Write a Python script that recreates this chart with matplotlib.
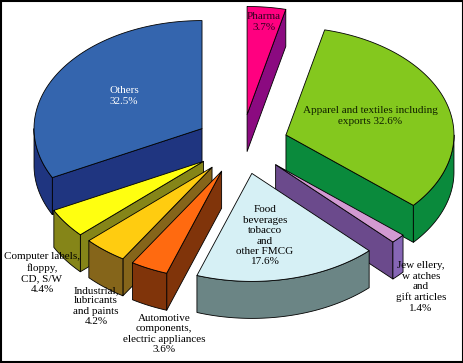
import numpy as np
import matplotlib
matplotlib.use('Agg')
import matplotlib.pyplot as plt
from matplotlib.patches import Polygon, Rectangle

# shares in percent, clockwise from 12 o'clock
labels = ['Pharma\n3.7%', 'Apparel and textiles including\nexports 32.6%',
          'Jew ellery,\nw atches\nand\ngift articles\n1.4%',
          'Food\nbeverages\ntobacco\nand\nother FMCG\n17.6%',
          'Automotive\ncomponents,\nelectric appliances\n3.6%',
          'Industrial,\nlubricants\nand paints\n4.2%',
          'Computer labels,\nfloppy,\nCD, S/W\n4.4%',
          'Others\n32.5%']
shares = [3.7, 32.6, 1.4, 17.6, 3.6, 4.2, 4.4, 32.5]

top_colors = ['#FF0080', '#84C81E', '#D29AD2', '#D6F0F5', '#FF6A10', '#FFCC10', '#FFFF10', '#3465AE']
side_colors = ['#8B0A80', '#0A8A3C', '#6B4A8C', '#6B8585', '#80340A', '#85651A', '#858518', '#1F3580']
wall_colors = ['#8B0A80', '#0A8A3C', '#8666B5', '#6B8585', '#80340A', '#85651A', '#858518', '#1F3580']
text_colors = ['#300020', '#102000', 'black', 'black', 'black', 'black', 'black', 'white']
label_pos = [(264, 22), (370, 116), (421, 287), (265, 236), (164, 334), (96, 306), (42, 273), (124, 96)]

# pie geometry in pixels
cx, cy = 241.7, 144.2
a, b = 168, 108
depth = 37
explode = 0.277

def rim(x0, y0, t):
    return x0 + a * np.sin(t), y0 - b * np.cos(t)

def draw_poly(ax, xs, ys, color):
    ax.add_patch(Polygon(np.column_stack((xs, ys)), closed=True, facecolor=color,
                         edgecolor='black', linewidth=0.6, joinstyle='round'))

fig = plt.figure(figsize=(4.64, 3.63), dpi=100)
ax = fig.add_axes([0, 0, 1, 1])
ax.set_xlim(0, 464)
ax.set_ylim(363, 0)
ax.axis('off')

ends = np.cumsum(shares) / 100 * 2 * np.pi
starts = np.concatenate(([0], ends[:-1]))

# back slices first, front slices last
order = [0, 7, 1, 2, 3, 6, 5, 4]
for i in order:
    t1, t2 = starts[i], ends[i]
    mid = (t1 + t2) / 2
    x0 = cx + explode * a * np.sin(mid)
    y0 = cy - explode * b * np.cos(mid)

    # radial faces
    if np.sin(t1) < -1e-6:
        x, y = rim(x0, y0, t1)
        draw_poly(ax, [x0, x, x, x0], [y0, y, y + depth, y0 + depth], side_colors[i])
    if np.sin(t2) > 1e-6:
        x, y = rim(x0, y0, t2)
        draw_poly(ax, [x0, x, x, x0], [y0, y, y + depth, y0 + depth], side_colors[i])

    # outer wall, only the part facing the viewer
    w1, w2 = max(t1, np.pi / 2), min(t2, 3 * np.pi / 2)
    if w2 > w1:
        t = np.linspace(w1, w2, 80)
        x, y = rim(x0, y0, t)
        draw_poly(ax, np.concatenate((x, x[::-1])), np.concatenate((y, y[::-1] + depth)), wall_colors[i])

    # top face
    t = np.linspace(t1, t2, 120)
    x, y = rim(x0, y0, t)
    draw_poly(ax, np.concatenate(([x0], x)), np.concatenate(([y0], y)), top_colors[i])

for i in range(len(labels)):
    ax.text(label_pos[i][0], label_pos[i][1], labels[i], ha='center', va='center', ma='center',
            family='Liberation Serif', fontsize=8, color=text_colors[i], linespacing=1.2)

ax.add_patch(Rectangle((0.5, 0.5), 462.5, 361.5, fill=False, edgecolor='black', linewidth=1.5))

fig.savefig('out.png', dpi=100)
